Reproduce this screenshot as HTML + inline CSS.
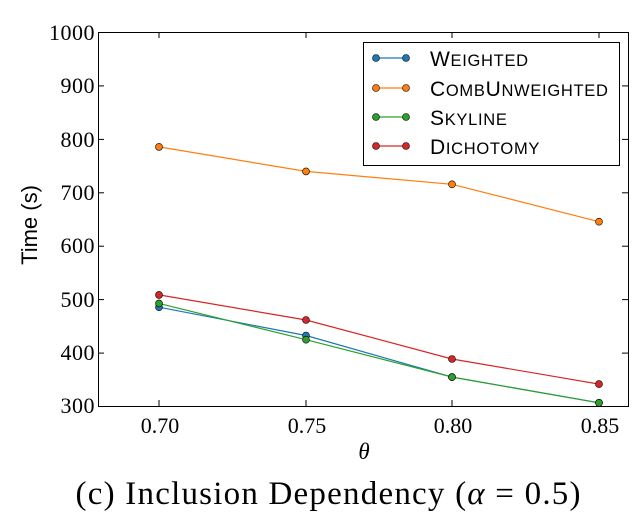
<!DOCTYPE html>
<html><head><style>body{margin:0;background:#fff}</style></head><body>
<svg width="644" height="522" xmlns="http://www.w3.org/2000/svg">
<rect width="644" height="522" fill="#fff"/>
<g stroke="#000" stroke-width="1">
<rect x="98.5" y="32.5" width="530" height="374" fill="none"/>
<line x1="98" y1="32.5" x2="104" y2="32.5"/><line x1="628" y1="32.5" x2="622" y2="32.5"/>
<line x1="98" y1="85.9" x2="104" y2="85.9"/><line x1="628" y1="85.9" x2="622" y2="85.9"/>
<line x1="98" y1="139.4" x2="104" y2="139.4"/><line x1="628" y1="139.4" x2="622" y2="139.4"/>
<line x1="98" y1="192.8" x2="104" y2="192.8"/><line x1="628" y1="192.8" x2="622" y2="192.8"/>
<line x1="98" y1="246.2" x2="104" y2="246.2"/><line x1="628" y1="246.2" x2="622" y2="246.2"/>
<line x1="98" y1="299.6" x2="104" y2="299.6"/><line x1="628" y1="299.6" x2="622" y2="299.6"/>
<line x1="98" y1="353.1" x2="104" y2="353.1"/><line x1="628" y1="353.1" x2="622" y2="353.1"/>
<line x1="159" y1="406" x2="159" y2="400"/><line x1="159" y1="32" x2="159" y2="38"/>
<line x1="306" y1="406" x2="306" y2="400"/><line x1="306" y1="32" x2="306" y2="38"/>
<line x1="452" y1="406" x2="452" y2="400"/><line x1="452" y1="32" x2="452" y2="38"/>
<line x1="599" y1="406" x2="599" y2="400"/><line x1="599" y1="32" x2="599" y2="38"/>
</g>
<g font-family="Liberation Serif, serif" font-size="22" text-anchor="end" fill="#000" letter-spacing="0.5">
<text x="95" y="40">1000</text><text x="95" y="93">900</text><text x="95" y="147">800</text>
<text x="95" y="200">700</text><text x="95" y="253">600</text><text x="95" y="307">500</text>
<text x="95" y="360">400</text><text x="95" y="413">300</text>
</g>
<g font-family="Liberation Serif, serif" font-size="22" text-anchor="middle">
<text x="160" y="433">0.70</text><text x="307" y="433">0.75</text><text x="453" y="433">0.80</text><text x="600" y="433">0.85</text>
<text x="364" y="459" font-style="italic" font-size="23">θ</text>
<text x="328" y="504" font-size="33" textLength="505" lengthAdjust="spacing">(c) Inclusion Dependency (<tspan font-style="italic">α</tspan> = 0.5)</text>
</g>
<text transform="translate(37,225) rotate(-90)" font-family="Liberation Sans, sans-serif" font-size="22" text-anchor="middle">Time (s)</text>
<g stroke-width="1.2" fill="none">
<polyline stroke="#ff7f0e" points="159,146.9 306,171.4 452,184.3 599,221.7"/>
<polyline stroke="#1f77b4" points="159,307.2 306,335.5 452,377.1 599,402.8"/>
<polyline stroke="#2ca02c" points="159,303.4 306,339.7 452,377.1 599,402.8"/>
<polyline stroke="#d62728" points="159,294.9 306,320 452,359 599,384.1"/>
</g>
<g stroke="#000" stroke-width="0.6">
<g fill="#ff7f0e"><circle cx="159" cy="146.9" r="3.5"/><circle cx="306" cy="171.4" r="3.5"/><circle cx="452" cy="184.3" r="3.5"/><circle cx="599" cy="221.7" r="3.5"/></g>
<g fill="#1f77b4"><circle cx="159" cy="307.2" r="3.5"/><circle cx="306" cy="335.5" r="3.5"/><circle cx="452" cy="377.1" r="3.5"/><circle cx="599" cy="402.8" r="3.5"/></g>
<g fill="#2ca02c"><circle cx="159" cy="303.4" r="3.5"/><circle cx="306" cy="339.7" r="3.5"/><circle cx="452" cy="377.1" r="3.5"/><circle cx="599" cy="402.8" r="3.5"/></g>
<g fill="#d62728"><circle cx="159" cy="294.9" r="3.5"/><circle cx="306" cy="320" r="3.5"/><circle cx="452" cy="359" r="3.5"/><circle cx="599" cy="384.1" r="3.5"/></g>
</g>
<rect x="363.5" y="42.5" width="256" height="123" fill="#fff" stroke="#000" stroke-width="1"/>
<g stroke-width="1.2">
<line x1="376" y1="58" x2="406" y2="58" stroke="#1f77b4"/>
<line x1="376" y1="88" x2="406" y2="88" stroke="#ff7f0e"/>
<line x1="376" y1="117" x2="406" y2="117" stroke="#2ca02c"/>
<line x1="376" y1="146" x2="406" y2="146" stroke="#d62728"/>
</g>
<g stroke="#000" stroke-width="0.6">
<circle cx="376" cy="58" r="3.5" fill="#1f77b4"/><circle cx="406" cy="58" r="3.5" fill="#1f77b4"/>
<circle cx="376" cy="88" r="3.5" fill="#ff7f0e"/><circle cx="406" cy="88" r="3.5" fill="#ff7f0e"/>
<circle cx="376" cy="117" r="3.5" fill="#2ca02c"/><circle cx="406" cy="117" r="3.5" fill="#2ca02c"/>
<circle cx="376" cy="146" r="3.5" fill="#d62728"/><circle cx="406" cy="146" r="3.5" fill="#d62728"/>
</g>
<g font-family="Liberation Sans, sans-serif" font-size="21" fill="#000" letter-spacing="0.7">
<text x="430" y="66">W<tspan font-size="16.5">EIGHTED</tspan></text>
<text x="430" y="96">C<tspan font-size="16.5">OMB</tspan>U<tspan font-size="16.5">NWEIGHTED</tspan></text>
<text x="430" y="125">S<tspan font-size="16.5">KYLINE</tspan></text>
<text x="430" y="154">D<tspan font-size="16.5">ICHOTOMY</tspan></text>
</g>
</svg>
</body></html>
